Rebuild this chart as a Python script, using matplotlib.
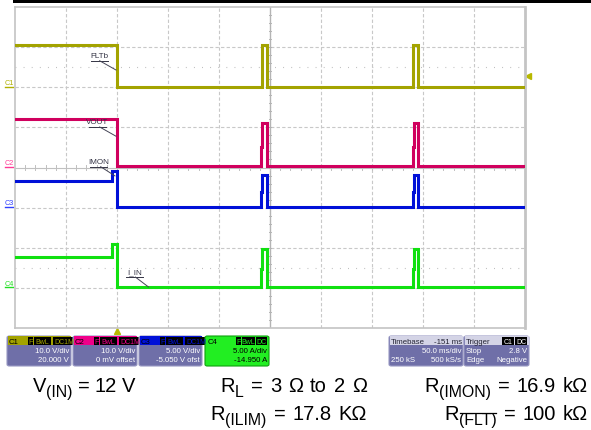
import matplotlib
matplotlib.use("Agg")
import matplotlib.pyplot as plt
from matplotlib.patches import FancyBboxPatch, Rectangle
from matplotlib.lines import Line2D

plt.rcParams['font.family'] = ['Liberation Sans', 'DejaVu Sans']

W, H = 591, 431

# --- scope settings (per channel: scale per div, ground position in divs) ---
ch_names = ["C1", "C2", "C3", "C4"]
ch_colors = ["#a3a300", "#d0005e", "#0010d8", "#10e010"]
ch_label_colors = ["#b0b000", "#ff3b96", "#3040ff", "#20e020"]
ch_scale = [10.0, 10.0, 5.0, 5.0]      # V/div, V/div, V/div, A/div
ch_ground = [6.0, 4.0, 3.0, 1.0]       # divisions from bottom

# --- waveforms: edge times (ms from left of screen) and levels (steps-post) ---
t_flt = [0, 100, 242, 247, 390, 395, 500]
v_flt = [10.5, 0.0, 10.5, 0.0, 10.5, 0.0, 0.0]

t_vout = [0, 100, 241, 242.5, 247, 390, 391.5, 395, 500]
v_vout = [12.2, 0.4, 5.0, 11.0, 0.4, 5.0, 11.0, 0.4, 0.4]

t_imon = [0, 95, 100, 241, 242.5, 247, 390, 391.5, 395, 500]
v_imon = [3.3, 4.6, 0.05, 2.0, 4.1, 0.05, 2.0, 4.1, 0.05, 0.05]

t_iin = [0, 95, 100, 241, 242.5, 247, 390, 391.5, 395, 500]
v_iin = [3.9, 5.5, 0.05, 2.4, 4.9, 0.05, 2.4, 4.9, 0.05, 0.05]

traces = [(t_flt, v_flt), (t_vout, v_vout), (t_imon, v_imon), (t_iin, v_iin)]

# --- annotation labels: (text, text pos (ms, div), leader start, leader end) ---
notes = [
    ("FLTb", (83, 6.80), (83, 6.66), (99, 6.43)),
    ("VOUT", (81, 5.15), (83, 5.01), (99, 4.78)),
    ("IMON", (82, 4.16), (84, 4.02), (98, 3.79)),
    ("I_IN", (117, 1.39), (118, 1.27), (131, 1.02)),
]

# --- info box texts ---
ch_box_lines = [
    ["10.0 V/div", "20.000 V"],
    ["10.0 V/div", "0 mV offset"],
    ["5.00 V/div", "-5.050 V ofst"],
    ["5.00 A/div", "-14.950 A"],
]
ch_badges = [["F", "BwL", "DC1M"], ["F", "BwL", "DC1M"], ["F", "BwL", "DC1M"], ["F", "BwL", "DC"]]
timebase = ["Timebase", "-151 ms", "50.0 ms/div", "250 kS", "500 kS/s"]
trigger = ["Trigger", "C1", "DC", "Stop", "2.8 V", "Edge", "Negative"]

# --- test conditions: tokens, "_" = subscript, "_~" = subscript with overline, " " = gap ---
eq_vin = ["V", "_(IN)", " ", "=", " ", "12", " ", "V"]
eq_rl = ["R", "_L", " ", "=", " ", "3", " ", "\u03a9", " ", "to", " ", "2", " ", "\u03a9"]
eq_rilim = ["R", "_(ILIM)", " ", "=", " ", "17.8", " ", "K\u03a9"]
eq_rimon = ["R", "_(IMON)", " ", "=", " ", "16.9", " ", "k\u03a9"]
eq_rflt = ["R", "_~(FLT)", " ", "=", " ", "100", " ", "k\u03a9"]


def fx(x):
    return x / W


def fy(y):
    return 1 - y / H


fig = plt.figure(figsize=(W / 100, H / 100), dpi=100)

# graticule
gx0, gx1, gy0, gy1 = 15, 525, 8, 329
ax = fig.add_axes([fx(gx0), fy(gy1), fx(gx1 - gx0), (gy1 - gy0) / H])
ax.set_xlim(0, 500)
ax.set_ylim(0, 8)
ax.set_xticks([])
ax.set_yticks([])
for s in ax.spines.values():
    s.set_color("#c4c4c4")
    s.set_linewidth(1.2)
ax.spines["right"].set_linewidth(2)

# top black rule: its own thin strip above the graticule
rule = fig.add_axes([fx(13), fy(3.5), 1 - fx(13), 2.5 / H], zorder=5)
rule.set_facecolor("black")
rule.set_xticks([])
rule.set_yticks([])
for s in rule.spines.values():
    s.set_visible(False)

for i in range(1, 10):
    if i != 5:
        ax.axvline(i * 50, color="#c8c8c8", lw=0.8, ls=(0, (3, 2)), zorder=1)
for j in range(1, 8):
    if j != 4:
        ax.axhline(j, color="#c8c8c8", lw=0.8, ls=(0, (3, 2)), zorder=1)
for yd in [6.5, 1.5]:
    ax.axhline(yd, color="#b8b8b8", lw=0.8, ls=(0, (0.8, 6.5)), zorder=1)

# center axes with minor ticks
ax.axvline(250, color="#b4b4b4", lw=1, zorder=1)
ax.axhline(4, color="#c0c0c0", lw=0.8, zorder=1)
for k in range(1, 40):
    ax.plot([248.6, 251.4], [k * 0.2, k * 0.2], color="#b4b4b4", lw=0.7, zorder=1)
for k in range(1, 50):
    ax.plot([k * 10, k * 10], [3.93, 4.07], color="#c0c0c0", lw=0.7, zorder=1)

# traces
for (t, v), c, sc, g in zip(traces, ch_colors, ch_scale, ch_ground):
    y = [g + val / sc for val in v]
    ax.plot(t, y, drawstyle="steps-post", color=c, lw=2.2, zorder=3,
            solid_joinstyle="miter")

# ground markers / channel labels on the left
for name, c, g in zip(ch_names, ch_label_colors, ch_ground):
    ax.text(-5.5, g + 0.03, name, color=c, fontsize=5.2, ha="center", va="bottom",
            clip_on=False)
    ax.plot([-9.5, -1.5], [g + 0.01, g + 0.01], color=c, lw=1.0, clip_on=False)

# trigger level marker and trigger position marker
ax.plot([503], [ch_ground[0] + 2.8 / ch_scale[0]], marker="<", color="#b8b800",
        ms=4.5, clip_on=False)
ax.plot([100], [-0.08], marker="^", color="#b8b800", ms=4.5, clip_on=False)

# annotations
for txt, (tx, ty), (lx0, ly0), (lx1, ly1) in notes:
    ax.text(tx, ty, txt, fontsize=5.8, color="#333344", ha="center", va="center", zorder=5)
    w = len(txt) * 4.3
    ax.plot([tx - w / 2, tx + w / 2], [ly0, ly0], color="#333344", lw=0.7, zorder=5)
    ax.plot([lx0, lx1], [ly0, ly1], color="#444455", lw=0.7, zorder=5)

# --- info boxes ---
box_fill = "#6f6fa8"
fs_box = 5.6


def rbox(x0, y0, x1, y1, fc, ec="#9a9ac4", lw=0.8):
    p = FancyBboxPatch((fx(x0), fy(y1)), fx(x1 - x0), (y1 - y0) / H,
                       boxstyle="round,pad=0,rounding_size=0.004",
                       fc=fc, ec=ec, lw=lw, transform=fig.transFigure)
    fig.add_artist(p)


def badge(x0, x1, ytop, txt, tc):
    fig.add_artist(Rectangle((fx(x0), fy(ytop + 8)), fx(x1 - x0), 8 / H,
                             fc="black", ec="none", transform=fig.transFigure))
    fig.text(fx((x0 + x1) / 2), fy(ytop + 4.2), txt, color=tc, fontsize=5.0,
             ha="center", va="center")


ch_box_x = [(7, 71), (73, 137), (139, 202), (205, 269)]
badge_x = [(21, 26), (27, 44), (46, 69)]
for i, ((x0, x1), name, lines, badges) in enumerate(zip(ch_box_x, ch_names, ch_box_lines, ch_badges)):
    hc = ch_colors[i] if i != 1 else "#f0008a"
    if i == 3:
        rbox(x0, 337, x1, 367, "#22ee22", ec="#10a010")
        tcol = "black"
        fig.text(fx(x0 + 3), fy(342), name, color="black", fontsize=fs_box, va="center")
        bx = [(x0 + 31, x0 + 36), (x0 + 37, x0 + 50), (x0 + 51, x0 + 62)]
    else:
        rbox(x0, 337, x1, 367, box_fill)
        fig.add_artist(Rectangle((fx(x0 + 0.5), fy(346)), fx(x1 - x0 - 1), 9 / H,
                                 fc=hc, ec="none", transform=fig.transFigure))
        fig.text(fx(x0 + 2), fy(342), name, color="black", fontsize=fs_box, va="center")
        tcol = "white"
        bx = [(x0 + a, x0 + b) for a, b in badge_x]
    for (b0, b1), bt in zip(bx, badges):
        badge(b0, b1, 338, bt, hc if i != 3 else "#22ee22")
    fig.text(fx(x1 - 2), fy(352), lines[0], color=tcol, fontsize=fs_box, ha="right", va="center")
    fig.text(fx(x1 - 2), fy(361), lines[1], color=tcol, fontsize=fs_box, ha="right", va="center")

# timebase box
rbox(389, 337, 463, 367, box_fill)
fig.add_artist(Rectangle((fx(389.5), fy(346)), fx(73), 9 / H, fc="#d4d4e6", ec="none",
                         transform=fig.transFigure))
fig.text(fx(391), fy(342), timebase[0], color="#222233", fontsize=fs_box, va="center")
fig.text(fx(462), fy(342), timebase[1], color="#222233", fontsize=fs_box, va="center", ha="right")
fig.text(fx(461), fy(352), timebase[2], color="white", fontsize=fs_box, va="center", ha="right")
fig.text(fx(391), fy(361), timebase[3], color="white", fontsize=fs_box, va="center")
fig.text(fx(461), fy(361), timebase[4], color="white", fontsize=fs_box, va="center", ha="right")

# trigger box
rbox(464, 337, 529, 367, box_fill)
fig.add_artist(Rectangle((fx(464.5), fy(346)), fx(64), 9 / H, fc="#d4d4e6", ec="none",
                         transform=fig.transFigure))
fig.text(fx(466), fy(342), trigger[0], color="#222233", fontsize=fs_box, va="center")
badge(502, 514, 338, trigger[1], "white")
badge(515, 527, 338, trigger[2], "white")
fig.text(fx(466), fy(352), trigger[3], color="white", fontsize=fs_box, va="center")
fig.text(fx(527), fy(352), trigger[4], color="white", fontsize=fs_box, va="center", ha="right")
fig.text(fx(466), fy(361), trigger[5], color="white", fontsize=fs_box, va="center")
fig.text(fx(527), fy(361), trigger[6], color="white", fontsize=fs_box, va="center", ha="right")

# --- test conditions, laid out token by token ---
renderer = fig.canvas.get_renderer()
fs_main, fs_sub, gap, sub_drop = 14.5, 11.4, 7.0, 5.0


def equation(x, yb, tokens, align="left", gap_px=gap):
    placed = []
    for tok in tokens:
        if tok == " ":
            placed.append((None, gap_px, False))
            continue
        sub = tok.startswith("_")
        over = tok.startswith("_~")
        txt = tok.lstrip("_~")
        t = fig.text(0, 0, txt, fontsize=fs_sub if sub else fs_main, va="baseline")
        w = t.get_window_extent(renderer).width
        placed.append((t, w, (sub, over)))
    total = sum(p[1] for p in placed)
    cur = x if align == "left" else x - total
    for t, w, flags in placed:
        if t is not None:
            sub, over = flags
            yy = yb + sub_drop if sub else yb
            t.set_position((fx(cur), fy(yy)))
            if over:
                top = yy - 10.8
                fig.add_artist(Line2D([fx(cur + 1), fx(cur + w - 1)], [fy(top), fy(top)],
                                      color="black", lw=0.9))
        cur += w


equation(33, 392, eq_vin, gap_px=5.0)
equation(367, 392, eq_rl, align="right")
equation(367, 420, eq_rilim, align="right")
equation(588, 392, eq_rimon, align="right")
equation(588, 420, eq_rflt, align="right")

fig.savefig("out.png", dpi=100)
